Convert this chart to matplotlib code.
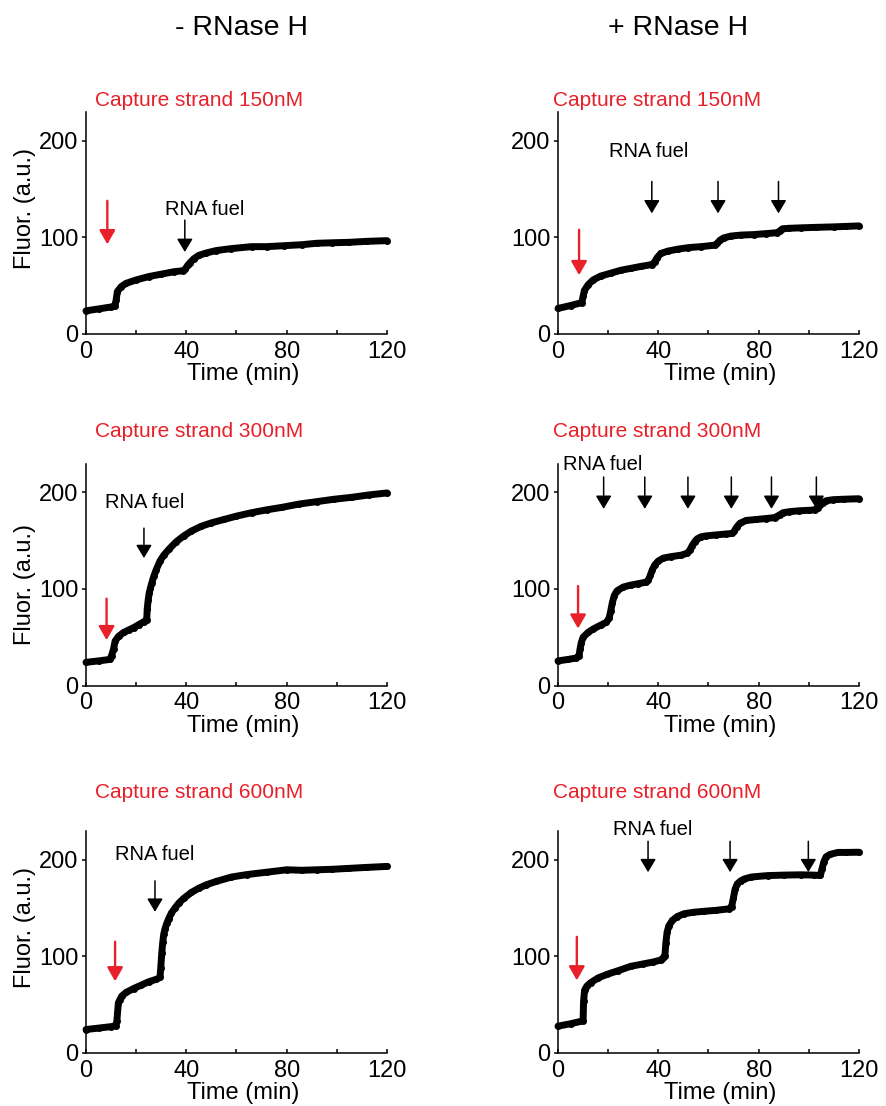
import matplotlib.pyplot as plt
from matplotlib.ticker import FixedLocator

plt.rcParams['font.family'] = ['Liberation Sans', 'DejaVu Sans']

# ---- traces: time (min), fluorescence (a.u.) ----
t_150_minus = [0, 5, 10, 11.5, 12, 12.5, 14, 16, 20, 25, 30, 35, 38.5, 39.5, 40.5, 41.5, 43, 45, 48, 52,
               58, 66, 72, 79, 86, 92, 98, 105, 112, 120]
f_150_minus = [24, 26, 28, 29, 35, 44, 49, 52.5, 56, 59.5, 62, 64.5, 65.5, 67, 71, 74, 78, 81.5, 84, 86.5,
               88.5, 90.5, 90.5, 91.5, 92.5, 94, 94.5, 95, 96, 96.7]

t_150_plus = [0, 5, 9.5, 10, 10.5, 12, 14, 17, 21, 25, 29, 33, 37.5, 38.5, 39.5, 41, 44, 48, 52, 57,
              62.5, 63.5, 64.5, 66, 69, 73, 78, 83, 87.5, 88.5, 89.5, 92, 97, 103, 110, 115, 120]
f_150_plus = [26.5, 29.5, 32.5, 39, 45, 51, 56, 60, 63, 66, 68, 70, 72, 74.5, 79, 83.5, 86, 88, 89.5, 90.5,
              92, 94, 97, 99.5, 101.5, 102.5, 103, 104, 105, 107, 109, 109.5, 110, 110.5, 111, 111.5, 112]

t_300_minus = [0, 5, 9.5, 10.2, 11, 11.6, 13, 15, 17, 19, 21, 23, 24.2, 24.4, 24.8, 25.2, 25.7, 26.2, 27, 28,
               29.5, 31, 33, 36, 39, 42, 46, 50, 55, 60, 66, 72, 78, 85, 92, 99, 106, 113, 120]
f_300_minus = [24, 25.5, 27, 31, 38, 46, 51, 55, 57.5, 60, 63, 66, 68, 79, 89, 96, 101, 106, 113, 120,
               129, 135, 141, 149, 155, 160, 165, 168.5, 172, 175.5, 179, 182, 184.5, 188, 190.5, 193, 195, 197.5, 199.5]

t_300_plus = [0, 4, 7.3, 8.4, 8.8, 9.3, 10, 12, 14, 17, 19.3, 20.4, 21, 21.6, 22.4, 23.5, 26, 29, 32, 35,
              36, 36.8, 37.6, 38.6, 40, 42, 45, 49, 51.5, 52.5, 53.5, 54.5, 55.5, 57, 59, 63, 67, 69.5, 70.3, 71.2,
              72.5, 75, 79, 83, 86.5, 87.5, 88.5, 89.7, 92, 96, 100, 102.5, 103.5, 104.5, 105.5, 107, 109.6, 114, 120]
f_300_plus = [25.5, 27, 28.5, 31, 38, 44.5, 50, 55, 58.5, 62.5, 65.5, 70, 77, 85, 93, 98, 102, 104, 105.5, 107,
              109, 114, 120, 125, 129, 132, 133.5, 135, 137, 140, 145, 149, 152, 154, 155, 156, 157, 157.5, 160, 164,
              168, 171, 172, 173, 174, 175.5, 177, 179, 180, 181, 181.5, 182, 184, 187, 189.5, 191.5, 192.5, 193, 193.5]

t_600_minus = [0, 5, 10, 11.9, 12.3, 12.9, 13.5, 14.2, 16, 19, 22, 25, 28, 29.5, 29.8, 30.2, 30.6, 31, 31.5, 32.2,
               33, 34, 35.5, 37, 39, 42, 45, 48, 52, 58, 64, 72, 80, 86, 92, 98, 105, 112, 120]
f_600_minus = [24, 25.5, 27, 28, 33, 51.5, 55, 58.5, 62.5, 66.5, 70, 73.5, 76, 78, 88, 103, 114.5, 123, 128.5, 134,
               139, 144.5, 150, 155, 160, 166, 170.5, 174, 177.5, 182, 184.5, 187, 189.5, 189, 189.5, 190, 191, 192, 193]

t_600_plus = [0, 5, 10, 10.2, 10.6, 11.5, 13, 16, 19.7, 24, 29, 34, 38, 40.9, 42, 42.6, 43, 43.5, 44.2, 45.6,
              47.5, 50.3, 54, 58.2, 63, 68, 69.2, 69.9, 70.6, 71.5, 72.8, 74.3, 77, 83.6, 90, 97, 102, 104.6, 105.2, 106,
              106.9, 108.5, 111.6, 115, 120]
f_600_plus = [27.5, 30, 33, 53.5, 64.8, 69, 72.5, 77.5, 81.3, 85, 89.5, 92, 94, 96, 98.5, 100, 113.5, 125, 131.5, 137,
              141, 144, 145.5, 146.5, 147.5, 149, 151, 160, 169.5, 175, 178, 180, 182, 183.5, 184, 184.3, 184, 183.6, 190, 198,
              203, 205.5, 207.5, 207.5, 207.7]

# arrow positions (time) for capture strand (red) and RNA fuel (black) additions
red_arrows = [(8.5, 138, 93), (8.4, 108, 61), (8.2, 90, 47), (8.0, 103, 59), (11.6, 115, 74), (7.5, 120, 75)]
fuel_times = [[39.4], [37.4, 63.8, 87.9], [23.1], [18.2, 34.6, 51.8, 69.1, 85.1, 103], [27.5], [35.9, 68.6, 99.8]]
fuel_y = [(118, 85), (158, 125), (163, 132), (216, 183), (178, 146), (219, 187)]
fuel_text = [(47.4, 129), (36.2, 189), (23.3, 190), (17.7, 229), (27.2, 205.5), (37.9, 231)]

titles = ['Capture strand 150nM', 'Capture strand 300nM', 'Capture strand 600nM']
traces = [(t_150_minus, f_150_minus), (t_150_plus, f_150_plus),
          (t_300_minus, f_300_minus), (t_300_plus, f_300_plus),
          (t_600_minus, f_600_minus), (t_600_plus, f_600_plus)]

W, H = 887, 1106
fig = plt.figure(figsize=(W / 100, H / 100), dpi=100)
RED = '#e8202a'

col_x = [86, 558]
row_y0 = [334, 685.5, 1052.7]
ylab_y = [0.567, 0.454, 0.566]
title_y = [100.7, 431.7, 792.7]

for i, (t, f) in enumerate(traces):
    r, c = divmod(i, 2)
    x0, y0 = col_x[c], row_y0[r]
    ax = fig.add_axes([x0 / W, 1 - y0 / H, 301 / W, 222 / H])
    ax.plot(t, f, '-o', color='k', lw=5.0, ms=5.0, mew=0, solid_capstyle='round',
            solid_joinstyle='round', clip_on=False, zorder=3)
    ax.set_xlim(0, 120)
    ax.set_ylim(0, 230)
    for s in ['top', 'right']:
        ax.spines[s].set_visible(False)
    for s in ['left', 'bottom']:
        ax.spines[s].set_linewidth(1.1)
    ax.xaxis.set_major_locator(FixedLocator([0, 40, 80, 120]))
    ax.xaxis.set_minor_locator(FixedLocator([20, 60, 100]))
    ax.yaxis.set_major_locator(FixedLocator([0, 100, 200]))
    ax.tick_params(axis='x', which='both', direction='in', length=3, width=1.1, labelsize=17, pad=5)
    ax.tick_params(axis='y', direction='out', length=3, width=1.1, labelsize=17, pad=2.5)
    ax.set_xlabel('Time (min)', fontsize=17, va='center')
    ax.xaxis.set_label_coords(0.522 if c == 0 else 0.54, -0.182)
    if c == 0:
        ax.set_ylabel('Fluor. (a.u.)', fontsize=17, va='center')
        ax.yaxis.set_label_coords(-0.202, ylab_y[r])

    rt, rtop, rtip = red_arrows[i]
    ax.annotate('', xy=(rt, rtip), xytext=(rt, rtop),
                arrowprops=dict(arrowstyle='-|>,head_length=0.42,head_width=0.24', color=RED,
                                lw=1.7, shrinkA=0, shrinkB=0, mutation_scale=20))
    ytop, ytip = fuel_y[i]
    for ft in fuel_times[i]:
        ax.annotate('', xy=(ft, ytip), xytext=(ft, ytop), annotation_clip=False,
                    arrowprops=dict(arrowstyle='-|>,head_length=0.4,head_width=0.24', color='k',
                                    lw=1.1, shrinkA=0, shrinkB=0, mutation_scale=20))
    tx, ty = fuel_text[i]
    ax.text(tx, ty, 'RNA fuel', fontsize=14.5, ha='center', va='center', clip_on=False)

    fig.text((95 if c == 0 else 553) / W, 1 - title_y[r] / H, titles[r], color=RED,
             fontsize=15, ha='left', va='center')

fig.text(242 / W, 1 - 28 / H, '- RNase H', fontsize=20.5, ha='center', va='center')
fig.text(678 / W, 1 - 28 / H, '+ RNase H', fontsize=20.5, ha='center', va='center')

fig.savefig('out.png', dpi=100)
